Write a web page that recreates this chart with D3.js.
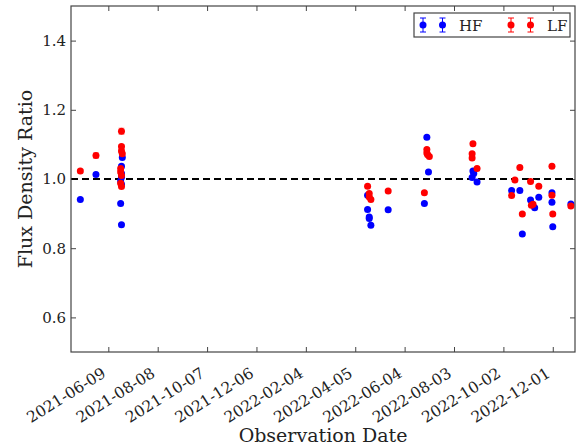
<!DOCTYPE html>
<html>
<head>
<meta charset="utf-8">
<script src="https://cdn.jsdelivr.net/npm/d3@7"></script>
<style>
  body { margin: 0; background: #fff; }
  text { font-family: "DejaVu Serif", serif; fill: #222; }
</style>
</head>
<body>
<div id="container"></div>
<script>
var width = 584,
    height = 448;

// HF series
var hfDates = ["2021-05-06", "2021-05-25", "2021-06-26", "2021-06-25", "2021-06-25", "2021-06-25", "2021-06-24",
    "2021-06-25", "2021-06-24", "2021-06-25", "2022-04-20", "2022-04-20", "2022-04-22", "2022-04-22", "2022-04-24",
    "2022-05-15", "2022-07-01", "2022-07-03", "2022-06-28", "2022-08-26", "2022-08-27", "2022-08-25", "2022-08-31",
    "2022-10-12", "2022-10-22", "2022-10-25", "2022-11-04", "2022-11-09", "2022-11-14", "2022-11-30", "2022-11-30",
    "2022-12-01", "2022-12-23"];
var hfValues = [0.941, 1.013, 1.062, 1.037, 1.016, 1.005, 0.994, 0.985, 0.929, 0.868, 0.953, 0.912, 0.890, 0.886,
    0.866, 0.911, 1.121, 1.020, 0.929, 1.023, 1.016, 1.004, 0.991, 0.967, 0.967, 0.841, 0.939, 0.917, 0.947, 0.960,
    0.933, 0.862, 0.928];
var hfErrors = [0.003, 0.004, 0.004, 0.004, 0.003, 0.003, 0.003, 0.003, 0.003, 0.003, 0.003, 0.003, 0.003, 0.003,
    0.003, 0.003, 0.004, 0.003, 0.003, 0.003, 0.003, 0.003, 0.003, 0.003, 0.003, 0.003, 0.003, 0.003, 0.003, 0.003,
    0.003, 0.003, 0.003];

// LF series
var lfDates = ["2021-05-06", "2021-05-25", "2021-06-25", "2021-06-25", "2021-06-25", "2021-06-26", "2021-06-24",
    "2021-06-24", "2021-06-25", "2021-06-24", "2021-06-25", "2022-04-20", "2022-04-22", "2022-04-22", "2022-04-24",
    "2022-05-15", "2022-07-01", "2022-07-01", "2022-07-02", "2022-07-04", "2022-06-28", "2022-08-26", "2022-08-25",
    "2022-08-25", "2022-08-31", "2022-10-22", "2022-11-30", "2022-10-16", "2022-11-04", "2022-11-14", "2022-10-12",
    "2022-11-30", "2022-11-07", "2022-11-05", "2022-12-23", "2022-10-25", "2022-12-01"];
var lfValues = [1.023, 1.068, 1.138, 1.094, 1.081, 1.073, 1.030, 1.020, 1.010, 0.988, 0.978, 0.979, 0.958, 0.948,
    0.941, 0.965, 1.085, 1.075, 1.070, 1.065, 0.960, 1.102, 1.073, 1.061, 1.030, 1.033, 1.037, 0.997, 0.993, 0.979,
    0.952, 0.953, 0.927, 0.924, 0.922, 0.899, 0.899];
var lfErrors = [0.005, 0.008, 0.009, 0.005, 0.005, 0.005, 0.004, 0.004, 0.004, 0.004, 0.004, 0.004, 0.004, 0.004,
    0.004, 0.004, 0.005, 0.004, 0.004, 0.004, 0.004, 0.005, 0.004, 0.004, 0.004, 0.004, 0.004, 0.004, 0.004, 0.004,
    0.004, 0.004, 0.004, 0.004, 0.004, 0.004, 0.004];

var tickLabels = ["2021-06-09", "2021-08-08", "2021-10-07", "2021-12-06", "2022-02-04", "2022-04-05",
    "2022-06-04", "2022-08-03", "2022-10-02", "2022-12-01"];
var yTicks = [0.6, 0.8, 1.0, 1.2, 1.4];
var xDomain = ["2021-04-24T16:00", "2022-12-28T00:00"];
var yDomain = [0.5, 1.5];
var refValue = 1.0;

var series = [
    { name: "HF", color: "#0000ff", dates: hfDates, values: hfValues, errors: hfErrors },
    { name: "LF", color: "#ff0000", dates: lfDates, values: lfValues, errors: lfErrors }
];

var margin = { top: 6, right: 9, bottom: 96, left: 71 };
var frameColor = "#444";

var parseDate = d3.utcParse("%Y-%m-%d");
var parseTime = d3.utcParse("%Y-%m-%dT%H:%M");

var svg = d3.select("#container")
    .append("svg")
    .attr("width", width)
    .attr("height", height);

var x = d3.scaleUtc()
    .domain(xDomain.map(parseTime))
    .range([margin.left, width - margin.right]);

var y = d3.scaleLinear()
    .domain(yDomain)
    .range([height - margin.bottom, margin.top]);

var plotW = width - margin.left - margin.right,
    plotH = height - margin.top - margin.bottom;

// clip for the plot area
svg.append("clipPath").attr("id", "clip")
    .append("rect")
    .attr("x", margin.left).attr("y", margin.top)
    .attr("width", plotW).attr("height", plotH);

var tickDates = tickLabels.map(parseDate);

// bottom axis with rotated labels
var xAxis = svg.append("g")
    .attr("transform", "translate(0," + (height - margin.bottom) + ")")
    .call(d3.axisBottom(x)
        .tickValues(tickDates)
        .tickSize(-5)
        .tickPadding(0)
        .tickFormat(d3.utcFormat("%Y-%m-%d")));
xAxis.select(".domain").remove();
xAxis.selectAll("line").attr("stroke", frameColor);
xAxis.selectAll("text")
    .attr("font-size", 15.5)
    .attr("text-anchor", "end")
    .attr("dy", null)
    .attr("y", null)
    .attr("transform", "translate(-2,24) rotate(-32)");

// top ticks
var xTop = svg.append("g")
    .attr("transform", "translate(0," + margin.top + ")")
    .call(d3.axisTop(x).tickValues(tickDates).tickSize(-5).tickFormat(""));
xTop.select(".domain").remove();
xTop.selectAll("line").attr("stroke", frameColor);

// left axis
var yAxis = svg.append("g")
    .attr("transform", "translate(" + margin.left + ",0)")
    .call(d3.axisLeft(y)
        .tickValues(yTicks)
        .tickSize(-5)
        .tickPadding(5)
        .tickFormat(d3.format(".1f")));
yAxis.select(".domain").remove();
yAxis.selectAll("line").attr("stroke", frameColor);
yAxis.selectAll("text").attr("font-size", 15).attr("x", -5);

// right ticks
var yRight = svg.append("g")
    .attr("transform", "translate(" + (width - margin.right) + ",0)")
    .call(d3.axisRight(y).tickValues(yTicks).tickSize(-5).tickFormat(""));
yRight.select(".domain").remove();
yRight.selectAll("line").attr("stroke", frameColor);

// reference line
svg.append("line")
    .attr("x1", margin.left)
    .attr("x2", width - margin.right)
    .attr("y1", y(refValue))
    .attr("y2", y(refValue))
    .attr("stroke", "#000")
    .attr("stroke-width", 2)
    .attr("stroke-dasharray", "7,4");

// points with error bars
var plot = svg.append("g").attr("clip-path", "url(#clip)");

series.forEach(function (s) {
    var pts = s.dates.map(function (d, i) {
        return { date: parseDate(d), value: s.values[i], err: s.errors[i] };
    });
    var g = plot.append("g").attr("class", "series-" + s.name);

    var bars = g.selectAll("g.err")
        .data(pts)
        .enter().append("g")
        .attr("class", "err")
        .attr("stroke", s.color)
        .attr("stroke-opacity", 0.35)
        .attr("stroke-width", 1);
    bars.append("line")
        .attr("x1", function (d) { return x(d.date); })
        .attr("x2", function (d) { return x(d.date); })
        .attr("y1", function (d) { return y(d.value - d.err); })
        .attr("y2", function (d) { return y(d.value + d.err); });
    bars.append("line")
        .attr("x1", function (d) { return x(d.date) - 3; })
        .attr("x2", function (d) { return x(d.date) + 3; })
        .attr("y1", function (d) { return y(d.value + d.err); })
        .attr("y2", function (d) { return y(d.value + d.err); });
    bars.append("line")
        .attr("x1", function (d) { return x(d.date) - 3; })
        .attr("x2", function (d) { return x(d.date) + 3; })
        .attr("y1", function (d) { return y(d.value - d.err); })
        .attr("y2", function (d) { return y(d.value - d.err); });

    g.selectAll("circle")
        .data(pts)
        .enter().append("circle")
        .attr("cx", function (d) { return x(d.date); })
        .attr("cy", function (d) { return y(d.value); })
        .attr("r", 3.5)
        .attr("fill", s.color);
});

// frame
svg.append("rect")
    .attr("x", margin.left)
    .attr("y", margin.top)
    .attr("width", plotW)
    .attr("height", plotH)
    .attr("fill", "none")
    .attr("stroke", frameColor)
    .attr("stroke-width", 1.2);

// legend
var legend = svg.append("g").attr("transform", "translate(414,13)");
legend.append("rect")
    .attr("width", 156)
    .attr("height", 24)
    .attr("fill", "#fff")
    .attr("stroke", frameColor)
    .attr("stroke-width", 1.2);

var legendX = d3.scalePoint().domain(series.map(function (s) { return s.name; })).range([9, 97]);

series.forEach(function (s) {
    var lg = legend.append("g").attr("transform", "translate(" + legendX(s.name) + ",12)");
    [0, 19.5].forEach(function (dx) {
        var m = lg.append("g").attr("transform", "translate(" + dx + ",0)").attr("stroke", s.color);
        m.append("line").attr("y1", -7).attr("y2", 7);
        m.append("line").attr("x1", -3).attr("x2", 3).attr("y1", -7).attr("y2", -7);
        m.append("line").attr("x1", -3).attr("x2", 3).attr("y1", 7).attr("y2", 7);
        m.append("circle").attr("r", 3.5).attr("fill", s.color).attr("stroke", "none");
    });
    lg.append("text")
        .attr("x", 36)
        .attr("y", 5.5)
        .attr("font-size", 15)
        .text(s.name);
});

// axis titles
svg.append("text")
    .attr("x", margin.left + plotW / 2)
    .attr("y", 442)
    .attr("text-anchor", "middle")
    .attr("font-size", 19)
    .text("Observation Date");

svg.append("text")
    .attr("transform", "translate(32," + (margin.top + plotH / 2) + ") rotate(-90)")
    .attr("text-anchor", "middle")
    .attr("font-size", 19)
    .text("Flux Density Ratio");
</script>
</body>
</html>
